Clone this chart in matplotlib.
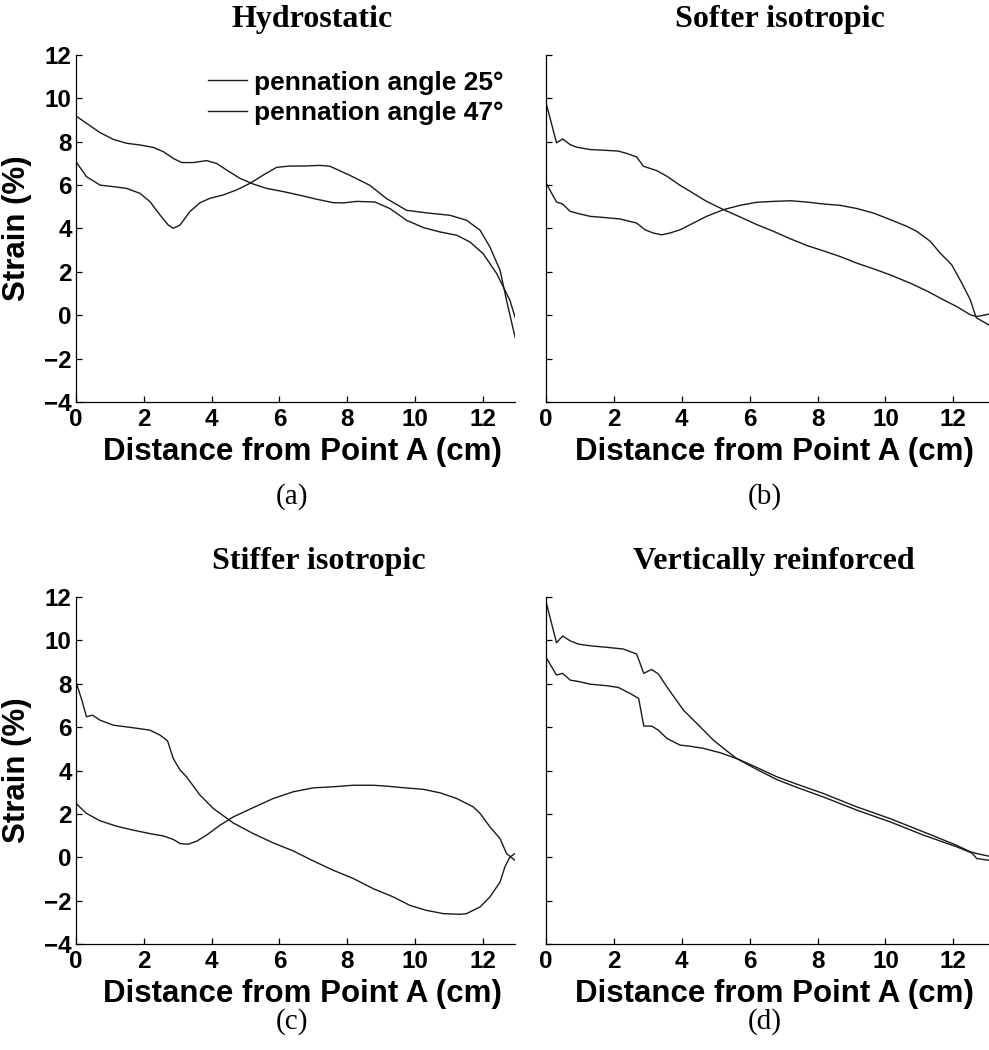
import matplotlib
matplotlib.use('Agg')
import matplotlib.pyplot as plt

# --- data (distance in cm, strain in %) ---
# (a) Hydrostatic
hyd_x_25 = [0, 0.31, 0.71, 1.10, 1.49, 1.89, 2.28, 2.58, 2.87, 3.12, 3.46, 3.85, 4.15, 4.44, 4.84,
            5.23, 5.62, 6.12, 6.61, 7.10, 7.59, 7.89, 8.28, 8.82, 9.26, 9.75, 10.25, 10.74, 11.23,
            11.62, 12.01, 12.41, 12.80, 12.95]
hyd_y_25 = [9.19, 8.85, 8.42, 8.11, 7.93, 7.85, 7.74, 7.54, 7.23, 7.04, 7.04, 7.13, 7.00, 6.70, 6.31,
            6.05, 5.85, 5.70, 5.53, 5.35, 5.19, 5.18, 5.25, 5.22, 4.92, 4.38, 4.04, 3.84, 3.69,
            3.38, 2.84, 1.92, 0.69, -0.08]
hyd_x_47 = [0, 0.31, 0.71, 1.10, 1.49, 1.89, 2.18, 2.48, 2.72, 2.87, 3.07, 3.36, 3.66, 3.95, 4.35,
            4.74, 5.13, 5.53, 5.92, 6.31, 6.71, 7.20, 7.49, 8.08, 8.67, 9.16, 9.75, 10.34, 11.03,
            11.52, 11.92, 12.21, 12.51, 12.70, 12.95]
hyd_y_47 = [7.08, 6.39, 6.00, 5.93, 5.85, 5.62, 5.24, 4.62, 4.16, 4.01, 4.16, 4.78, 5.19, 5.39, 5.55,
            5.78, 6.08, 6.47, 6.82, 6.88, 6.88, 6.91, 6.87, 6.45, 5.99, 5.38, 4.84, 4.72, 4.61,
            4.38, 3.92, 3.15, 2.07, 0.69, -1.00]

# (b) Softer isotropic
soft_x_25 = [0, 0.31, 0.49, 0.71, 0.90, 1.30, 1.69, 2.13, 2.38, 2.67, 2.87, 3.26, 3.56, 3.95, 4.24,
             4.73, 5.23, 5.72, 6.21, 6.70, 7.19, 7.68, 8.17, 8.66, 9.16, 9.65, 10.14, 10.73, 11.22,
             11.71, 12.10, 12.50, 12.69, 13.05]
soft_y_25 = [9.80, 7.95, 8.13, 7.87, 7.75, 7.64, 7.61, 7.57, 7.46, 7.30, 6.87, 6.67, 6.41, 5.99, 5.72,
             5.25, 4.87, 4.53, 4.18, 3.87, 3.53, 3.22, 2.97, 2.71, 2.40, 2.14, 1.86, 1.48, 1.12,
             0.71, 0.40, 0.02, -0.06, 0.05]
soft_x_47 = [0, 0.31, 0.49, 0.71, 1.00, 1.30, 1.69, 2.18, 2.67, 2.92, 3.16, 3.41, 3.65, 3.95, 4.34,
             4.73, 5.23, 5.72, 6.21, 6.70, 7.19, 7.68, 8.17, 8.66, 9.16, 9.65, 10.14, 10.63, 10.92,
             11.32, 11.61, 11.95, 12.25, 12.50, 12.67, 13.05]
soft_y_47 = [6.10, 5.22, 5.13, 4.79, 4.67, 4.56, 4.51, 4.44, 4.25, 3.94, 3.79, 3.71, 3.79, 3.94, 4.25,
             4.56, 4.87, 5.07, 5.21, 5.25, 5.28, 5.22, 5.13, 5.07, 4.92, 4.71, 4.41, 4.10, 3.87,
             3.41, 2.87, 2.33, 1.48, 0.71, -0.11, -0.45]

# (c) Stiffer isotropic
stiff_x_25 = [0, 0.17, 0.31, 0.49, 0.71, 1.10, 1.69, 2.18, 2.48, 2.70, 2.87, 3.07, 3.26, 3.66, 4.05,
              4.64, 5.23, 5.82, 6.41, 7.00, 7.59, 8.18, 8.77, 9.36, 9.85, 10.34, 10.84, 11.33,
              11.52, 11.92, 12.21, 12.51, 12.65, 12.80, 12.95]
stiff_y_25 = [8.09, 7.25, 6.48, 6.55, 6.32, 6.09, 5.97, 5.86, 5.63, 5.37, 4.55, 4.02, 3.71, 2.86, 2.25,
              1.58, 1.09, 0.66, 0.29, -0.17, -0.60, -0.98, -1.45, -1.83, -2.22, -2.45, -2.60, -2.63,
              -2.60, -2.29, -1.83, -1.14, -0.45, 0.01, 0.17]
stiff_x_47 = [0, 0.31, 0.71, 1.20, 1.69, 2.18, 2.58, 2.87, 3.07, 3.31, 3.56, 3.85, 4.25, 4.64, 5.23,
              5.82, 6.41, 7.00, 7.59, 8.18, 8.77, 9.16, 9.56, 10.25, 10.74, 11.23, 11.72, 11.92,
              12.21, 12.51, 12.70, 12.95]
stiff_y_47 = [2.48, 2.02, 1.68, 1.43, 1.25, 1.09, 0.98, 0.82, 0.63, 0.60, 0.74, 1.02, 1.48, 1.86, 2.29,
              2.71, 3.02, 3.20, 3.25, 3.32, 3.32, 3.28, 3.22, 3.13, 2.97, 2.71, 2.32, 2.02,
              1.40, 0.86, 0.17, -0.14]

# (d) Vertically reinforced
vert_x_25 = [0, 0.31, 0.49, 0.71, 0.95, 1.30, 1.79, 2.28, 2.67, 2.88, 3.11, 3.31, 3.56, 4.05, 4.54,
             4.93, 5.32, 5.62, 6.21, 6.80, 7.39, 8.17, 9.16, 10.14, 11.12, 12.10, 12.54, 12.69, 13.05]
vert_y_25 = [11.78, 9.89, 10.20, 9.98, 9.83, 9.75, 9.68, 9.60, 9.37, 8.48, 8.66, 8.45, 7.86, 6.78, 6.02,
             5.40, 4.91, 4.55, 4.05, 3.58, 3.22, 2.78, 2.17, 1.63, 1.02, 0.48, 0.20, -0.06, -0.14]
vert_x_47 = [0, 0.31, 0.49, 0.71, 1.00, 1.30, 1.79, 2.13, 2.48, 2.73, 2.88, 3.11, 3.31, 3.56, 3.95,
             4.24, 4.64, 5.13, 5.62, 6.21, 6.80, 7.39, 8.17, 9.16, 10.14, 11.12, 12.10, 12.50, 12.69, 13.05]
vert_y_47 = [9.22, 8.40, 8.48, 8.17, 8.09, 7.98, 7.91, 7.83, 7.55, 7.32, 6.05, 6.05, 5.86, 5.48, 5.17,
             5.12, 5.02, 4.82, 4.55, 4.14, 3.71, 3.37, 2.94, 2.32, 1.78, 1.17, 0.55, 0.25, 0.17, 0.05]

titles = ['Hydrostatic', 'Softer isotropic', 'Stiffer isotropic', 'Vertically reinforced']
panel_tags = ['(a)', '(b)', '(c)', '(d)']
legend_labels = ['pennation angle 25\u00b0', 'pennation angle 47\u00b0']
xticks = [0, 2, 4, 6, 8, 10, 12]
yticks = [-4, -2, 0, 2, 4, 6, 8, 10, 12]

series = [
    (hyd_x_25, hyd_y_25, hyd_x_47, hyd_y_47),
    (soft_x_25, soft_y_25, soft_x_47, soft_y_47),
    (stiff_x_25, stiff_y_25, stiff_x_47, stiff_y_47),
    (vert_x_25, vert_y_25, vert_x_47, vert_y_47),
]

W, H = 989, 1050
fig = plt.figure(figsize=(W / 100, H / 100), dpi=100)

sans = 'Liberation Sans'
serif = 'Liberation Serif'

# axes boxes in pixels: left, right, top, bottom, xmax
boxes = [(76, 515, 55, 402, 12.95), (546, 989, 55, 402, 13.05),
         (76, 515, 597, 944, 12.95), (546, 989, 597, 944, 13.05)]
title_pos = [(312, 27), (780, 27), (319, 569), (774, 569)]
tag_pos = [(292, 497), (765, 497), (292, 1022), (765, 1022)]

for i, (l, r, t, b, xmax) in enumerate(boxes):
    ax = fig.add_axes([l / W, 1 - b / H, (r - l) / W, (b - t) / H])
    x1, y1, x2, y2 = series[i]
    ax.plot(x1, y1, color='#1a1a1a', lw=1.0, label=legend_labels[0])
    ax.plot(x2, y2, color='#1a1a1a', lw=1.0, label=legend_labels[1])
    ax.set_xlim(0, xmax)
    ax.set_ylim(-4, 12)
    ax.set_xticks(xticks)
    ax.set_yticks(yticks)
    for s in ['top', 'right']:
        ax.spines[s].set_visible(False)
    for s in ['left', 'bottom']:
        ax.spines[s].set_linewidth(0.9)
    ax.tick_params(direction='in', length=4, width=0.9)
    ax.tick_params(axis='x', pad=4)
    ax.tick_params(axis='y', pad=3)
    for lab in ax.get_xticklabels() + ax.get_yticklabels():
        lab.set_fontfamily(sans)
        lab.set_fontweight('bold')
        lab.set_fontsize(17.5)
    ax.set_xlabel('Distance from Point A (cm)', fontfamily=sans, fontweight='bold', fontsize=22.5)
    ax.xaxis.set_label_coords(0.515, -0.1)
    if i % 2 == 0:
        ax.set_ylabel('Strain (%)', fontfamily=sans, fontweight='bold', fontsize=22.5, va='center')
        ax.yaxis.set_label_coords(-0.135, 0.5)
    else:
        ax.set_yticklabels([])
    if i == 0:
        ax.legend(loc='upper left', bbox_to_anchor=(0.30, 0.955), frameon=False,
                  borderpad=0, borderaxespad=0, handlelength=1.5, handletextpad=0.27,
                  labelspacing=0.25, prop={'family': sans, 'weight': 'bold', 'size': 19})
    tx, ty = title_pos[i]
    fig.text(tx / W, 1 - ty / H, titles[i], ha='center', va='baseline',
             fontfamily=serif, fontweight='bold', fontsize=23)
    gx, gy = tag_pos[i]
    fig.text(gx / W, 1 - gy / H, panel_tags[i], ha='center', va='center',
             fontfamily=serif, fontsize=21)

fig.savefig('out.png', dpi=100)
